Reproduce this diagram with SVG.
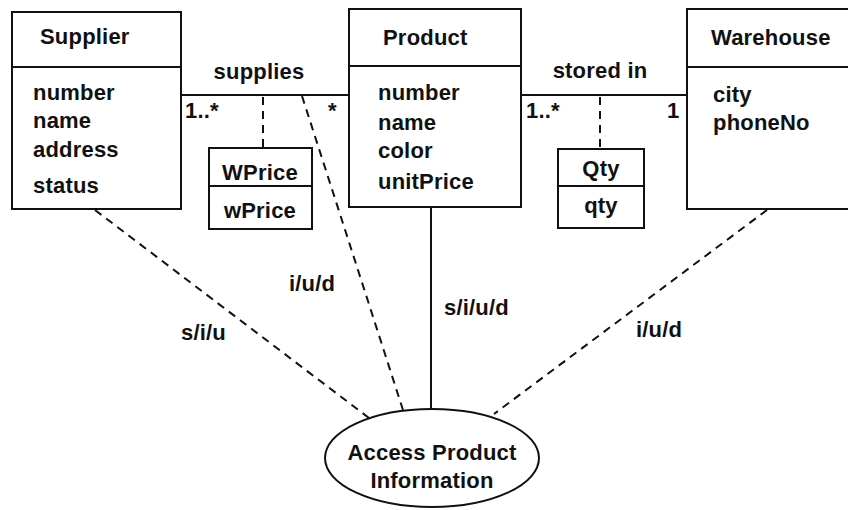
<svg xmlns="http://www.w3.org/2000/svg" width="848" height="510" viewBox="0 0 848 510">
<style>
text{font-family:"Liberation Sans",Arial,sans-serif;font-weight:bold;font-size:22px;letter-spacing:0.2px;fill:#111}
.box{fill:#fff;stroke:#111;stroke-width:2}
.ln{stroke:#111;stroke-width:2;fill:none}
.dash{stroke:#111;stroke-width:2;fill:none;stroke-dasharray:8,6}
.mid{text-anchor:middle}
</style>
<rect width="848" height="510" fill="#fff"/>
<g id="connectors">
<line class="ln" x1="181" y1="95" x2="349" y2="95"/>
<line class="ln" x1="521" y1="95" x2="687" y2="95"/>
<line class="dash" x1="263" y1="97" x2="263" y2="148"/>
<line class="dash" x1="600" y1="97" x2="600" y2="149"/>
<line class="dash" x1="302" y1="96" x2="403" y2="410"/>
<line class="dash" x1="95" y1="210" x2="369" y2="418"/>
<line class="ln" x1="431" y1="207" x2="431" y2="409"/>
<line class="dash" x1="767" y1="210" x2="494" y2="414"/>
<text x="259" y="79" class="mid">supplies</text>
<text x="185" y="118">1..*</text>
<text x="328" y="118">*</text>
<text x="600" y="78" class="mid">stored in</text>
<text x="526" y="118">1..*</text>
<text x="667" y="118">1</text>
<text x="181" y="340">s/i/u</text>
<text x="289" y="291">i/u/d</text>
<text x="444" y="315">s/i/u/d</text>
<text x="636" y="337">i/u/d</text>
</g>
<g id="supplier">
<rect class="box" x="12" y="12" width="169" height="197"/>
<line class="ln" x1="12" y1="67" x2="181" y2="67"/>
<text x="40" y="44">Supplier</text>
<text x="33" y="100">number</text>
<text x="33" y="128">name</text>
<text x="33" y="157">address</text>
<text x="33" y="193">status</text>
</g>
<g id="wprice">
<rect class="box" x="209" y="148" width="103" height="81"/>
<line class="ln" x1="209" y1="186" x2="312" y2="186"/>
<text x="260" y="180" class="mid">WPrice</text>
<text x="260" y="218" class="mid">wPrice</text>
</g>
<g id="product">
<rect class="box" x="349" y="9" width="172" height="198"/>
<line class="ln" x1="349" y1="66" x2="521" y2="66"/>
<text x="383" y="45">Product</text>
<text x="378" y="100">number</text>
<text x="378" y="130">name</text>
<text x="378" y="158">color</text>
<text x="378" y="189">unitPrice</text>
</g>
<g id="qty">
<rect class="box" x="558" y="149" width="86" height="79"/>
<line class="ln" x1="558" y1="186" x2="644" y2="186"/>
<text x="601" y="176" class="mid">Qty</text>
<text x="601" y="213" class="mid">qty</text>
</g>
<g id="warehouse">
<rect class="box" x="687" y="9" width="180" height="200"/>
<line class="ln" x1="687" y1="67" x2="848" y2="67"/>
<text x="711" y="45">Warehouse</text>
<text x="713" y="102">city</text>
<text x="713" y="130">phoneNo</text>
</g>
<g id="access">
<ellipse class="box" cx="432" cy="458" rx="107" ry="49"/>
<text x="432" y="460" class="mid">Access Product</text>
<text x="432" y="488" class="mid">Information</text>
</g>
</svg>
